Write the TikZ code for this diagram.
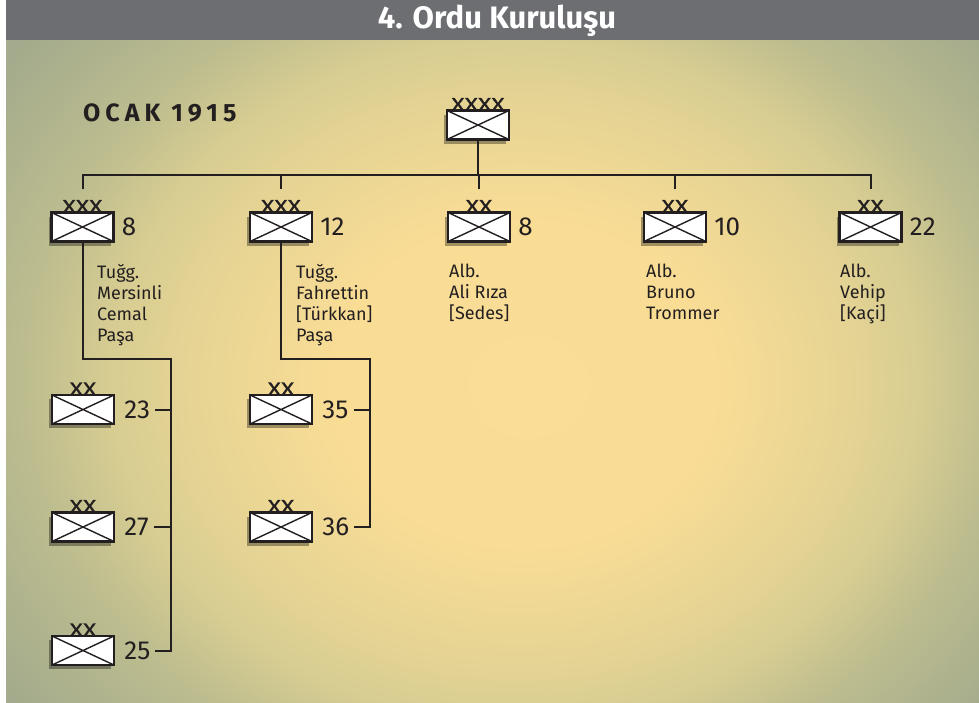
\documentclass[tikz,border=0pt]{standalone}
\usepackage{fontspec}
\setmainfont{Fira Sans}
\usetikzlibrary{positioning,shadows}
\definecolor{inkblack}{HTML}{231F20}
\definecolor{bandgray}{HTML}{6D6E72}
\pgfdeclareradialshading{bgglow}{\pgfpoint{2bp}{-1bp}}{rgb(0bp)=(0.98,0.87,0.59);rgb(10bp)=(0.975,0.865,0.585);rgb(17bp)=(0.90,0.83,0.58);rgb(21bp)=(0.84,0.80,0.57);rgb(25bp)=(0.74,0.74,0.56);rgb(32bp)=(0.64,0.67,0.55);rgb(50bp)=(0.64,0.67,0.55)}
\tikzset{
  unit/.style={draw=inkblack, fill=white, line width=2.4pt,
    minimum width=62pt, minimum height=29pt, inner sep=0pt,
    drop shadow={shadow xshift=-3pt, shadow yshift=-4pt, fill=black, opacity=0.35},
    path picture={\draw[inkblack, line width=1.4pt]
      (path picture bounding box.north west) -- (path picture bounding box.south east)
      (path picture bounding box.south west) -- (path picture bounding box.north east);}},
  echelon/.style={inner sep=0pt, text=inkblack, yshift=-2pt,
    font=\fontsize{19}{19}\selectfont\addfontfeature{FakeStretch=1.3,FakeBold=0.6}},
  num/.style={inner sep=0pt, text=inkblack, font=\fontsize{26}{26}\selectfont},
  cmdr/.style={inner sep=0pt, text=inkblack, font=\fontsize{18}{21}\selectfont,
    align=left, anchor=north west},
  conn/.style={draw=inkblack, line width=2pt}
}
\begin{document}
\begin{tikzpicture}[x=1pt,y=-1pt]  % ------ 4. Ordu, Ocak 1915 --------------
  \useasboundingbox (0,0) rectangle (979,702);
  \fill[white] (0,0) rectangle (979,702);
  \begin{scope}
    \clip (6,40) rectangle (979,702);
    \shade[shading=bgglow] (6,-40) rectangle (979,782);
  \end{scope}
  \fill[bandgray] (6,0) rectangle (979,40);
  \node[text=white, font=\fontsize{31}{31}\selectfont\bfseries] (title) at (497,21) {4. Ordu Kuruluşu};
  \node[anchor=west, inner sep=0pt, text=inkblack,
        font=\fontsize{25}{25}\selectfont\bfseries\addfontfeature{LetterSpace=20}] (date) at (83,113) {OCAK 1915};

  % ------ ordu, kolordular, tümenler --------------
  \node[unit, label={[echelon]above:XXXX}] (army) at (478,125) {};
  \node[unit, label={[echelon]above:XXX}] (c8) at (82.5,227) {};
  \node[unit, label={[echelon]above:XXX}] (c12) at (281,227) {};
  \node[unit, label={[echelon]above:XX}] (d8) at (479,227) {};
  \node[unit, label={[echelon]above:XX}] (d10) at (675,227) {};
  \node[unit, label={[echelon]above:XX}] (d22) at (870.5,227) {};
  \coordinate (bar) at (0,175);

  \node[num, right=7pt of c8] (nc8) {8};
  \node[num, right=7pt of c12] (nc12) {12};
  \node[num, right=7pt of d8] (nd8) {8};
  \node[num, right=7pt of d10] (nd10) {10};
  \node[num, right=7pt of d22] (nd22) {22};

  \node[cmdr] (kc8) at (97,264) {Tuğg.\\Mersinli\\Cemal\\Paşa};
  \node[cmdr] (kc12) at (296,264) {Tuğg.\\Fahrettin\\{[Türkkan]}\\Paşa};
  \node[cmdr] (kd8) at (449,264) {Alb.\\Ali Rıza\\{[Sedes]}};
  \node[cmdr] (kd10) at (646,264) {Alb.\\Bruno\\Trommer};
  \node[cmdr] (kd22) at (840,264) {Alb.\\Vehip\\{[Kaçi]}};

  \draw[conn] (army.south) -- (army.south |- bar);
  \draw[conn] ([yshift=22pt]c8.north) |- (bar -| d22.north) -- ([yshift=22pt]d22.north);
  \foreach \u in {c12,d8,d10}
    \draw[conn] ([yshift=22pt]\u.north) -- (bar -| \u.north);

  % ------ kolordulara bağlı tümenler --------------
  \node[unit, label={[echelon]above:XX}] (e23) at (83,409.5) {};
  \node[unit, label={[echelon]above:XX}] (e27) at (83,527) {};
  \node[unit, label={[echelon]above:XX}] (e25) at (83,650.5) {};
  \node[unit, label={[echelon]above:XX}] (e35) at (281,409.5) {};
  \node[unit, label={[echelon]above:XX}] (e36) at (281,527) {};
  \node[num, right=9pt of e23] (n23) {23};
  \node[num, right=9pt of e27] (n27) {27};
  \node[num, right=9pt of e25] (n25) {25};
  \node[num, right=9pt of e35] (n35) {35};
  \node[num, right=9pt of e36] (n36) {36};
  \coordinate (c8spine) at (171,359);
  \coordinate (c12spine) at (370,359);

  \draw[conn] (c8.south) |- (c8spine) -- (c8spine |- n25.east) -- ([xshift=5pt]n25.east);
  \draw[conn] (c12.south) |- (c12spine) -- (c12spine |- n36.east) -- ([xshift=5pt]n36.east);
  \foreach \n/\s in {n23/c8spine,n27/c8spine,n35/c12spine}
    \draw[conn] ([xshift=5pt]\n.east) -- (\n.east -| \s);
\end{tikzpicture}
\end{document}
